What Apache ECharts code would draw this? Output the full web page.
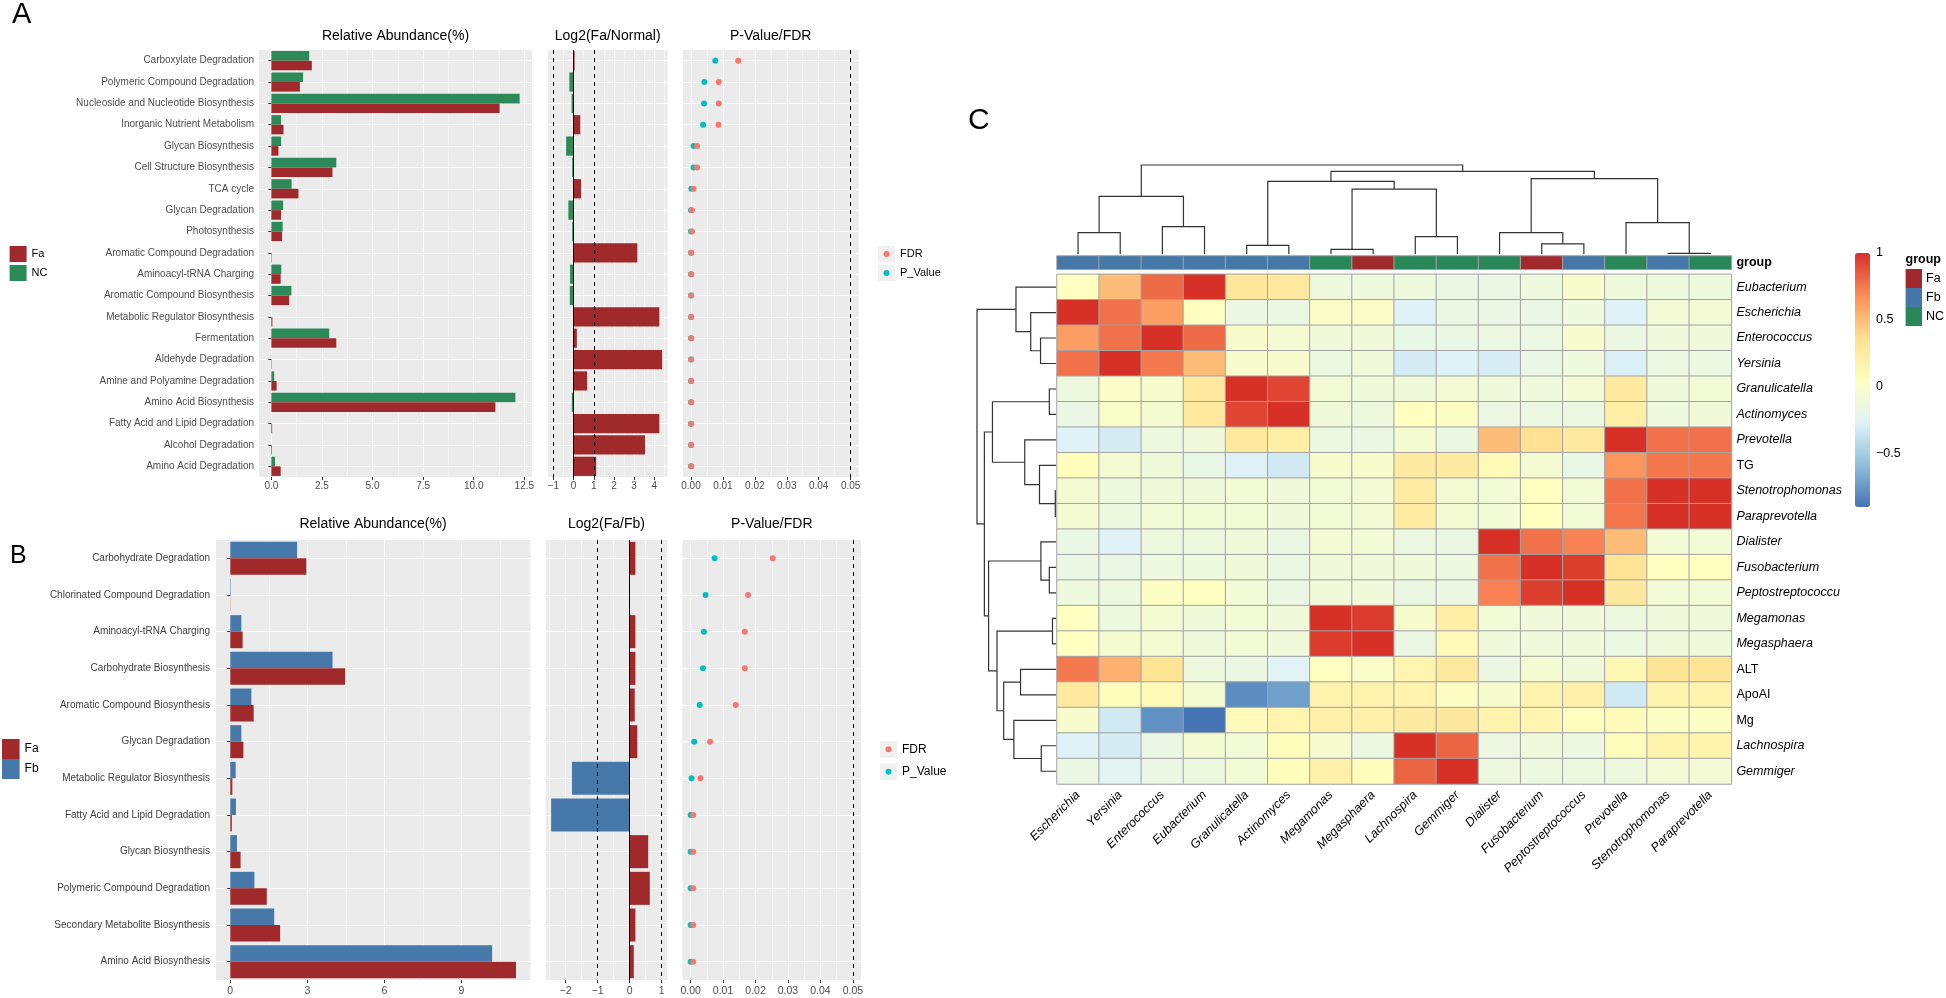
<!DOCTYPE html>
<html><head><meta charset="utf-8">
<script src="https://cdn.jsdelivr.net/npm/echarts@6/dist/echarts.min.js"></script>
<style>html,body{margin:0;padding:0;background:#fff}#chart{width:1946px;height:998px}</style>
</head><body><div id="chart"></div>
<script>
// ---------------- DATA ----------------
const catsA = ['Carboxylate Degradation','Polymeric Compound Degradation','Nucleoside and Nucleotide Biosynthesis','Inorganic Nutrient Metabolism','Glycan Biosynthesis','Cell Structure Biosynthesis','TCA cycle','Glycan Degradation','Photosynthesis','Aromatic Compound Degradation','Aminoacyl-tRNA Charging','Aromatic Compound Biosynthesis','Metabolic Regulator Biosynthesis','Fermentation','Aldehyde Degradation','Amine and Polyamine Degradation','Amino Acid Biosynthesis','Fatty Acid and Lipid Degradation','Alcohol Degradation','Amino Acid Degradation'];
const relA_NC = [1.87,1.57,12.27,0.48,0.48,3.21,1.0,0.58,0.56,0,0.49,0.99,0,2.86,0,0.14,12.06,0,0,0.18];
const relA_Fa = [2.0,1.41,11.28,0.6,0.35,3.02,1.34,0.48,0.53,0.02,0.46,0.88,0.05,3.21,0.02,0.26,11.07,0.04,0.03,0.46];
const log2A = [0.05,-0.21,-0.1,0.33,-0.37,-0.07,0.37,-0.26,-0.07,3.16,-0.18,-0.19,4.25,0.16,4.39,0.67,-0.09,4.25,3.54,1.12];
const pA   = [0.0076,0.0042,0.0041,0.0038,0.0008,0.0008,0.0001,0,0,0,0,0,0,0,0,0,0,0,0,0];
const fdrA = [0.0148,0.0087,0.0087,0.0086,0.0019,0.0019,0.0008,0.0003,0.0003,0.0001,0.0001,0.0001,0.0001,0.0001,0.0001,0.0001,0.0001,0.0001,0.0001,0.0001];

const catsB = ['Carbohydrate Degradation','Chlorinated Compound Degradation','Aminoacyl-tRNA Charging','Carbohydrate Biosynthesis','Aromatic Compound Biosynthesis','Glycan Degradation','Metabolic Regulator Biosynthesis','Fatty Acid and Lipid Degradation','Glycan Biosynthesis','Polymeric Compound Degradation','Secondary Metabolite Biosynthesis','Amino Acid Biosynthesis'];
const relB_Fb = [2.6,0.02,0.43,3.98,0.82,0.43,0.21,0.22,0.26,0.94,1.71,10.19];
const relB_Fa = [2.96,0.01,0.48,4.47,0.91,0.51,0.08,0.06,0.4,1.42,1.94,11.12];
const log2B = [0.18,0,0.18,0.18,0.16,0.24,-1.8,-2.45,0.58,0.63,0.18,0.13];
const pB   = [0.0074,0.0046,0.0041,0.0038,0.0028,0.0011,0.0003,0,0,0,0,0];
const fdrB = [0.0253,0.0177,0.0167,0.0167,0.0139,0.006,0.003,0.0008,0.0008,0.0008,0.0008,0.0008];

const ticksA1 = [0,2.5,5,7.5,10,12.5], minorA1 = [1.25,3.75,6.25,8.75,11.25];
const ticksA2 = [-1,0,1,2,3,4], minorA2 = [-0.5,0.5,1.5,2.5,3.5,4.5];
const ticksP = [0,0.01,0.02,0.03,0.04,0.05], minorP = [0.005,0.015,0.025,0.035,0.045];
const ticksB1 = [0,3,6,9], minorB1 = [1.5,4.5,7.5,10.5];
const ticksB2 = [-2,-1,0,1], minorB2 = [-2.5,-1.5,-0.5,0.5];
const log2Thresholds = [-1, 1];
const pThreshold = [0.05];

const colNames = ['Escherichia','Yersinia','Enterococcus','Eubacterium','Granulicatella','Actinomyces','Megamonas','Megasphaera','Lachnospira','Gemmiger','Dialister','Fusobacterium','Peptostreptococcus','Prevotella','Stenotrophomonas','Paraprevotella'];
const rowNames = ['Eubacterium','Escherichia','Enterococcus','Yersinia','Granulicatella','Actinomyces','Prevotella','TG','Stenotrophomonas','Paraprevotella','Dialister','Fusobacterium','Peptostreptococcu','Megamonas','Megasphaera','ALT','ApoAI','Mg','Lachnospira','Gemmiger'];
const plainRows = ['TG','ALT','ApoAI','Mg'];
const colGroups = ['Fb','Fb','Fb','Fb','Fb','Fb','NC','Fa','NC','NC','NC','Fa','Fb','NC','Fb','NC'];
const groupNames = ['Fa','Fb','NC'];
const heatValues = [
 [0.04,0.5,0.8,1.0,0.3,0.27,-0.12,-0.12,-0.12,-0.16,-0.16,-0.12,-0.02,-0.11,-0.12,-0.12],
 [1.0,0.78,0.62,0.04,-0.15,-0.15,0.0,0.0,-0.27,-0.16,-0.16,-0.16,-0.12,-0.27,-0.07,-0.07],
 [0.62,0.78,1.0,0.8,-0.02,-0.06,-0.1,-0.1,-0.17,-0.16,-0.14,-0.14,-0.02,-0.15,-0.1,-0.1],
 [0.78,1.0,0.75,0.5,-0.02,-0.02,-0.14,-0.1,-0.31,-0.27,-0.3,-0.16,-0.12,-0.29,-0.14,-0.14],
 [-0.13,0.0,-0.02,0.27,1.0,0.93,-0.08,-0.1,-0.1,-0.07,-0.1,-0.1,-0.07,0.27,-0.1,-0.08],
 [-0.16,-0.01,-0.05,0.27,0.93,1.0,-0.1,-0.13,0.05,0.02,-0.14,-0.14,-0.14,0.22,-0.12,-0.1],
 [-0.27,-0.31,-0.13,-0.1,0.27,0.22,-0.14,-0.15,-0.05,-0.15,0.5,0.35,0.27,1.0,0.78,0.78],
 [0.07,-0.05,-0.1,-0.17,-0.28,-0.33,-0.02,-0.02,0.25,0.25,0.1,-0.05,-0.17,0.65,0.76,0.76],
 [-0.05,-0.12,-0.1,-0.1,-0.08,-0.1,-0.08,-0.07,0.24,-0.06,-0.08,0.05,-0.08,0.78,1.0,1.0],
 [-0.05,-0.13,-0.08,-0.08,-0.08,-0.1,-0.08,-0.07,0.24,-0.06,-0.08,0.05,-0.08,0.76,1.0,1.0],
 [-0.16,-0.27,-0.13,-0.13,-0.1,-0.15,-0.06,-0.08,-0.14,-0.15,1.0,0.78,0.72,0.5,-0.08,-0.08],
 [-0.16,-0.16,-0.13,-0.12,-0.1,-0.15,-0.1,-0.1,-0.1,-0.14,0.78,1.0,0.95,0.33,0.05,0.05],
 [-0.12,-0.13,0.02,0.04,-0.08,-0.15,-0.1,-0.1,-0.15,-0.15,0.72,0.95,1.0,0.28,-0.08,-0.08],
 [0.04,-0.13,-0.06,-0.1,-0.08,-0.1,1.0,0.96,-0.03,0.22,-0.08,-0.1,-0.1,-0.13,-0.1,-0.1],
 [0.04,-0.05,-0.06,-0.1,-0.08,-0.1,0.96,1.0,-0.15,0.1,-0.1,-0.1,-0.1,-0.14,-0.1,-0.1],
 [0.75,0.55,0.33,-0.13,-0.15,-0.26,0.05,0.0,0.15,0.27,-0.15,-0.05,-0.1,0.12,0.33,0.33],
 [0.27,0.07,0.1,-0.05,-0.8,-0.72,0.17,0.17,0.17,0.02,-0.02,0.17,0.2,-0.33,0.17,0.17],
 [-0.02,-0.33,-0.78,-0.9,0.08,0.15,0.2,0.2,0.25,0.28,0.17,0.15,0.05,0.08,0.03,0.03],
 [-0.27,-0.31,-0.16,-0.06,-0.08,0.07,-0.04,-0.14,1.0,0.82,-0.14,-0.1,-0.14,0.07,0.17,0.17],
 [-0.16,-0.24,-0.16,-0.13,-0.08,0.07,0.2,0.07,0.82,1.0,-0.13,-0.13,-0.13,-0.13,-0.07,-0.07]
];
const heatTicks = [-0.5, 0, 0.5, 1];
// hclust-style merges: negative = leaf (1-based), positive = earlier merge (1-based), third = height
const colMerges = [[-15,-16,2],[-7,-8,14],[-5,-6,26],[-12,-13,30],[-9,-10,52],[-1,-2,64],[-11,4,64],[-3,-4,82],[-14,1,94],[6,8,172],[2,5,194],[3,11,217],[7,9,225],[12,13,247],[10,14,266]];
const rowMerges = [[-9,-10,2],[-14,-15,10],[-5,-6,19],[-12,-13,19],[-19,-20,42],[-11,4,43],[-3,-4,44],[-8,1,47],[-2,7,72],[-7,8,89],[-16,-17,101],[-1,9,114],[-18,5,120],[11,13,149],[2,14,168],[3,10,181],[6,15,192],[16,17,204],[12,18,225]];

// ---------------- STYLE ----------------
const FONT = 'Liberation Sans';
const RED = '#A02A2B', GREEN = '#2B8A57', BLUE = '#4679AA';
const groupColors = {Fa:'#A1292B', Fb:'#4577A9', NC:'#2A8757'};
const TXT = '#4D4D4D';
const heatPalette = ['#4575B4','#91BFDB','#E0F3F8','#FFFFBF','#FEE090','#FC8D59','#D73027'];
const minus = v => String(v).replace('-', '\u2212');

function buildSegs(merges) {
  const pos = [], hts = [], segs = [];
  const get = id => id < 0 ? [(-id) - 1, 0] : [pos[id - 1], hts[id - 1]];
  merges.forEach(m => {
    const a = get(m[0]), b = get(m[1]);
    segs.push([a[0], a[1], b[0], b[1], m[2]]);
    pos.push((a[0] + b[0]) / 2); hts.push(m[2]);
  });
  return segs;
}
const colSegs = buildSegs(colMerges);
const rowSegs = buildSegs(rowMerges);
const heatData = [];
heatValues.forEach((row, r) => row.forEach((v, c) => heatData.push([c, r, v])));
const annotData = colGroups.map((g, i) => [i, 0, groupNames.indexOf(g)]);

function keyIcon(color) {
  const svg = '<svg xmlns="http://www.w3.org/2000/svg" width="34" height="34"><rect width="34" height="34" fill="#F0F0F0"/><circle cx="17" cy="17" r="6" fill="' + color + '"/></svg>';
  return 'image://data:image/svg+xml;charset=utf-8,' + encodeURIComponent(svg);
}

function majorX(grid, min, max, ticks, fmt, fs, margin) {
  return {type:'value', gridIndex:grid, min:min, max:max, position:'bottom',
    axisLine:{show:false},
    axisTick:{show:true, length:3, lineStyle:{color:'#333'}, customValues:ticks},
    axisLabel:{show:true, customValues:ticks, formatter:fmt, color:TXT, fontSize:fs, margin:margin, fontFamily:FONT},
    splitLine:{show:true, lineStyle:{color:'#FFFFFF', width:1.1}}};
}
function minorX(grid, min, max, ticks) {
  return {type:'value', gridIndex:grid, min:min, max:max, position:'top',
    axisLine:{show:false}, axisTick:{show:false, customValues:ticks}, axisLabel:{show:false, customValues:ticks},
    splitLine:{show:true, lineStyle:{color:'#FFFFFF', width:0.5}}};
}
function catY(grid, cats, showLabels, lab) {
  return {type:'category', gridIndex:grid, data:cats, inverse:true,
    axisLine:{show:false},
    axisTick:{show:showLabels, alignWithLabel:true, length:3, lineStyle:{color:'#333'}},
    axisLabel:Object.assign({show:showLabels, color:TXT, fontSize:10, margin:5, interval:0, fontFamily:FONT}, lab || {}),
    splitLine:{show:true, alignWithLabel:true, lineStyle:{color:'#FFFFFF', width:1.1}}};
}
const ggGrid = (l, t, w, h) => ({left:l, top:t, width:w, height:h, show:true, backgroundColor:'#EBEBEB', borderWidth:0, outerBoundsMode:'none', containLabel:false});
const plainGrid = (l, t, w, h) => ({left:l, top:t, width:w, height:h, show:false, outerBoundsMode:'none', containLabel:false});
const vline = (vals, type) => vals.map(v => ({xAxis:v, lineStyle:{type:type, color:'#000', width:1}}));
const mk = (vals, type) => ({silent:true, symbol:'none', label:{show:false}, animation:false, data:vline(vals, type)});

const chart = echarts.init(document.getElementById('chart'), null, {renderer:'canvas'});
const titleStyle = fs => ({fontSize:fs, color:'#000', fontWeight:'normal', fontFamily:FONT, lineHeight:fs});
const option = {
  animation:false,
  backgroundColor:'#FFFFFF',
  textStyle:{fontFamily:FONT},
  title:[
    {text:'A', left:12, top:0, padding:0, textStyle:titleStyle(29)},
    {text:'B', left:10, top:543.5, padding:0, textStyle:titleStyle(25)},
    {text:'C', left:968, top:106, padding:0, textStyle:titleStyle(30)},
    {text:'Relative Abundance(%)', left:395.5, top:29, textAlign:'center', padding:0, textStyle:titleStyle(14)},
    {text:'Log2(Fa/Normal)', left:607.7, top:29, textAlign:'center', padding:0, textStyle:titleStyle(14)},
    {text:'P-Value/FDR', left:770.7, top:29, textAlign:'center', padding:0, textStyle:titleStyle(14)},
    {text:'Relative Abundance(%)', left:373, top:517, textAlign:'center', padding:0, textStyle:titleStyle(14)},
    {text:'Log2(Fa/Fb)', left:606.4, top:517, textAlign:'center', padding:0, textStyle:titleStyle(14)},
    {text:'P-Value/FDR', left:771.8, top:517, textAlign:'center', padding:0, textStyle:titleStyle(14)},
    {text:'group', left:1905.6, top:253.5, padding:0, textStyle:{fontSize:12.5, fontWeight:'bold', color:'#000', fontFamily:FONT, lineHeight:12.5}}
  ],
  legend:[
    {orient:'vertical', left:9.6, top:246, padding:0, itemWidth:17, itemHeight:16, itemGap:3, icon:'rect', data:['Fa','NC'], textStyle:{fontSize:11, color:'#000'}, selectedMode:false},
    {orient:'vertical', left:878, top:245.5, padding:0, itemWidth:17, itemHeight:17, itemGap:2, data:[{name:'FDR', icon:keyIcon('#F8766D')},{name:'P_Value', icon:keyIcon('#00BFC4')}], textStyle:{fontSize:11, color:'#000'}, selectedMode:false},
    {orient:'vertical', left:2, top:739, padding:0, itemWidth:17.6, itemHeight:20, itemGap:0, icon:'rect', data:['Fa','Fb'], textStyle:{fontSize:12, color:'#000'}, selectedMode:false},
    {orient:'vertical', left:880, top:740.8, padding:0, itemWidth:17, itemHeight:17, itemGap:5.5, data:[{name:'FDR', icon:keyIcon('#F8766D')},{name:'P_Value', icon:keyIcon('#00BFC4')}], textStyle:{fontSize:12, color:'#000'}, selectedMode:false}
  ],
  grid:[
    ggGrid(259, 50, 273, 427),
    ggGrid(548, 50, 119.6, 427),
    ggGrid(683, 50, 175.6, 427),
    ggGrid(216, 540, 314.4, 440),
    ggGrid(545.7, 540, 121.4, 440),
    ggGrid(682.5, 540, 178.5, 440),
    plainGrid(1057, 274.3, 674.4, 509.7),
    plainGrid(1057, 256, 674.4, 13.3),
    plainGrid(1057, 165, 674.4, 89),
    plainGrid(977, 274.3, 79, 509.7),
    plainGrid(1855, 253, 15, 254)
  ],
  xAxis:[
    majorX(0, -0.61, 12.88, ticksA1, v => v.toFixed(1), 10, 4),
    minorX(0, -0.61, 12.88, minorA1),
    majorX(1, -1.27, 4.66, ticksA2, minus, 10, 4),
    minorX(1, -1.27, 4.66, minorA2),
    majorX(2, -0.0025, 0.0525, ticksP, v => v.toFixed(2), 10, 4),
    minorX(2, -0.0025, 0.0525, minorP),
    majorX(3, -0.556, 11.68, ticksB1, v => String(v), 10.5, 6),
    minorX(3, -0.556, 11.68, minorB1),
    majorX(4, -2.62, 1.17, ticksB2, minus, 10.5, 6),
    minorX(4, -2.62, 1.17, minorB2),
    majorX(5, -0.0025, 0.0525, ticksP, v => v.toFixed(2), 10.5, 6),
    minorX(5, -0.0025, 0.0525, minorP),
    {type:'category', gridIndex:6, data:colNames, position:'bottom', axisLine:{show:false}, axisTick:{show:false}, splitLine:{show:false},
      axisLabel:{interval:0, rotate:45, fontStyle:'italic', fontSize:12.5, color:'#000', margin:9, fontFamily:FONT}},
    {type:'category', gridIndex:7, data:colNames, show:false},
    {type:'value', gridIndex:8, min:-0.5, max:15.5, show:false},
    {type:'value', gridIndex:9, min:0, max:225, inverse:true, show:false},
    {type:'value', gridIndex:10, min:0, max:1, show:false}
  ],
  yAxis:[
    catY(0, catsA, true, {fontSize:10, margin:5}),
    catY(1, catsA, false),
    catY(2, catsA, false),
    catY(3, catsB, true, {fontSize:10, margin:6, color:'#404040'}),
    catY(4, catsB, false),
    catY(5, catsB, false),
    {type:'category', gridIndex:6, data:rowNames, inverse:true, position:'right', axisLine:{show:false}, axisTick:{show:false}, splitLine:{show:false},
      axisLabel:{interval:0, margin:5, formatter: v => (plainRows.indexOf(v) >= 0 ? '{n|' : '{i|') + v + '}',
        rich:{i:{fontStyle:'italic', fontSize:12.5, color:'#000', fontFamily:FONT}, n:{fontSize:12.5, color:'#000', fontFamily:FONT}}}},
    {type:'category', gridIndex:7, data:['group'], position:'right', axisLine:{show:false}, axisTick:{show:false}, splitLine:{show:false},
      axisLabel:{margin:5, fontWeight:'bold', fontSize:12.5, color:'#000', fontFamily:FONT}},
    {type:'value', gridIndex:8, min:0, max:266, show:false},
    {type:'value', gridIndex:9, min:-0.5, max:19.5, inverse:true, show:false},
    {type:'value', gridIndex:10, min:-0.9, max:1, position:'right', axisLine:{show:false}, axisTick:{show:false}, splitLine:{show:false},
      axisLabel:{customValues:heatTicks, formatter:minus, fontSize:12.5, color:'#000', margin:6, fontFamily:FONT}}
  ],
  visualMap:[
    {type:'continuous', seriesIndex:10, min:-0.9, max:1, inRange:{color:heatPalette}, left:1855, top:253, itemWidth:15, itemHeight:254, calculable:false, padding:0, hoverLink:false, textStyle:{fontSize:0}},
    {type:'piecewise', seriesIndex:11, inverse:true, pieces:groupNames.map((g, i) => ({value:i, label:g, color:groupColors[g]})), left:1905.6, top:269, itemWidth:16.4, itemHeight:19, itemGap:0, textGap:4, padding:0, align:'left', itemSymbol:'rect', selectedMode:false, hoverLink:false, textStyle:{fontSize:12.5, color:'#000', fontFamily:FONT}}
  ],
  series:[
    {name:'NC', type:'bar', xAxisIndex:0, yAxisIndex:0, data:relA_NC, barWidth:'45%', barGap:'0%', itemStyle:{color:GREEN}},
    {name:'Fa', type:'bar', xAxisIndex:0, yAxisIndex:0, data:relA_Fa, barWidth:'45%', barGap:'0%', itemStyle:{color:RED}},
    {name:'log2A', type:'bar', xAxisIndex:2, yAxisIndex:1, data:log2A, barWidth:'90%', itemStyle:{color: p => p.value >= 0 ? RED : GREEN},
      markLine:{silent:true, symbol:'none', label:{show:false}, data:vline(log2Thresholds, [4,4]).concat(vline([0], 'solid'))}},
    {name:'P_Value', type:'scatter', xAxisIndex:4, yAxisIndex:2, data:pA, symbolSize:6, itemStyle:{color:'#00BFC4', opacity:1}},
    {name:'FDR', type:'scatter', xAxisIndex:4, yAxisIndex:2, data:fdrA, symbolSize:6, itemStyle:{color:'#F8766D', opacity:1}, markLine:mk(pThreshold, [4,4])},
    {name:'Fb', type:'bar', xAxisIndex:6, yAxisIndex:3, data:relB_Fb, barWidth:'45%', barGap:'0%', itemStyle:{color:BLUE}},
    {name:'Fa', type:'bar', xAxisIndex:6, yAxisIndex:3, data:relB_Fa, barWidth:'45%', barGap:'0%', itemStyle:{color:RED}},
    {name:'log2B', type:'bar', xAxisIndex:8, yAxisIndex:4, data:log2B, barWidth:'90%', itemStyle:{color: p => p.value >= 0 ? RED : BLUE},
      markLine:{silent:true, symbol:'none', label:{show:false}, data:vline(log2Thresholds, [4,4]).concat(vline([0], 'solid'))}},
    {name:'P_Value', type:'scatter', xAxisIndex:10, yAxisIndex:5, data:pB, symbolSize:6, itemStyle:{color:'#00BFC4', opacity:1}},
    {name:'FDR', type:'scatter', xAxisIndex:10, yAxisIndex:5, data:fdrB, symbolSize:6, itemStyle:{color:'#F8766D', opacity:1}, markLine:mk(pThreshold, [4,4])},
    {name:'heat', type:'heatmap', xAxisIndex:12, yAxisIndex:6, data:heatData, itemStyle:{borderColor:'#A3A3A3', borderWidth:1}, emphasis:{disabled:true}, progressive:0},
    {name:'annot', type:'heatmap', xAxisIndex:13, yAxisIndex:7, data:annotData, itemStyle:{borderColor:'#A3A3A3', borderWidth:1}, emphasis:{disabled:true}},
    {name:'colDendro', type:'custom', xAxisIndex:14, yAxisIndex:8, data:colSegs, silent:true, clip:false,
      renderItem:(params, api) => ({type:'polyline', shape:{points:[
        api.coord([api.value(0), api.value(1)]), api.coord([api.value(0), api.value(4)]),
        api.coord([api.value(2), api.value(4)]), api.coord([api.value(2), api.value(3)])]},
        style:{stroke:'#333', fill:null, lineWidth:1.2}})},
    {name:'rowDendro', type:'custom', xAxisIndex:15, yAxisIndex:9, data:rowSegs, silent:true, clip:false,
      renderItem:(params, api) => ({type:'polyline', shape:{points:[
        api.coord([api.value(1), api.value(0)]), api.coord([api.value(4), api.value(0)]),
        api.coord([api.value(4), api.value(2)]), api.coord([api.value(3), api.value(2)])]},
        style:{stroke:'#333', fill:null, lineWidth:1.2}})}
  ]
};
chart.setOption(option);
</script></body></html>
